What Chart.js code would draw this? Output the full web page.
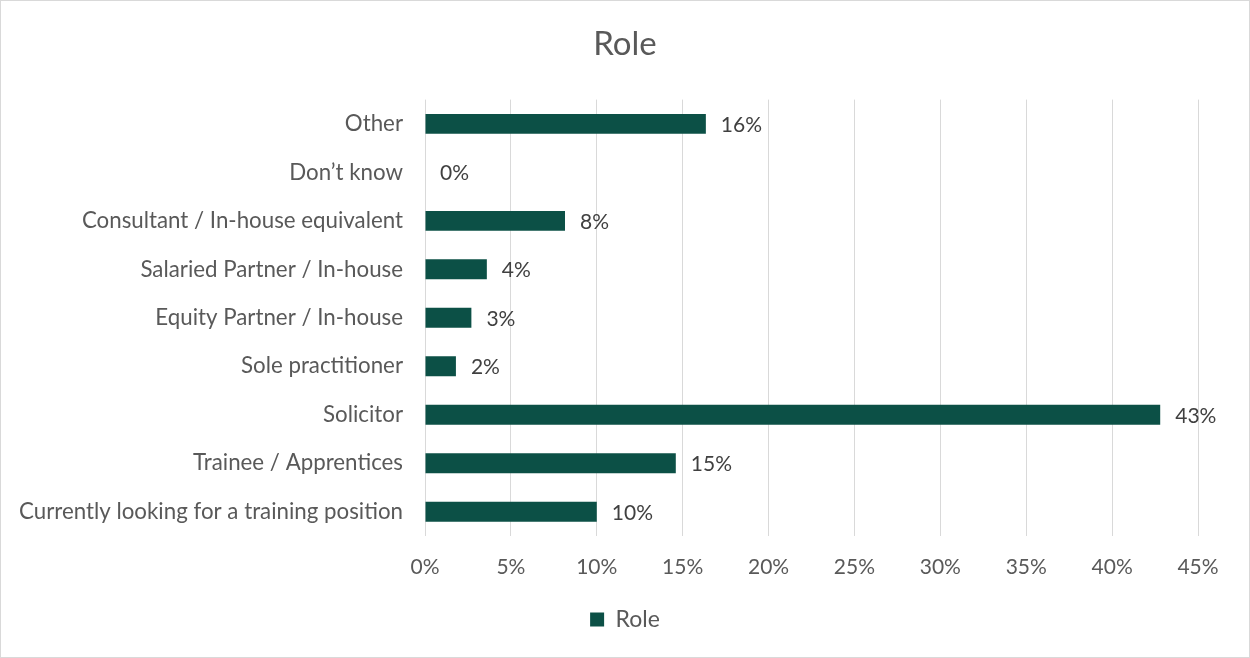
<!DOCTYPE html>
<html>
<head>
<meta charset="utf-8">
<script src="https://cdn.jsdelivr.net/npm/chart.js@4.4.1/dist/chart.umd.min.js"></script>
<style>
  body { margin: 0; background: #fff; }
  #caixa { width: 1250px; height: 658px; box-sizing: border-box; border: 1px solid #d9d9d9; }
  #grafico { display: block; }
</style>
</head>
<body>
<div id="caixa"><canvas id="grafico" width="1248" height="656"></canvas></div>
<script>
// dados
var categorias = [
  "Other",
  "Don\u2019t know",
  "Consultant / In-house equivalent",
  "Salaried Partner / In-house",
  "Equity Partner / In-house",
  "Sole practitioner",
  "Solicitor",
  "Trainee / Apprentices",
  "Currently looking for a training position",
];
var valores = [16.35, 0, 8.15, 3.6, 2.7, 1.8, 42.8, 14.6, 10.0];
var rotulos = ["16%", "0%", "8%", "4%", "3%", "2%", "43%", "15%", "10%"];

var fonte = "Lato, 'Liberation Sans', sans-serif";
var corTexto = "#595959";

// plugin simples pra escrever o valor no fim da barra
const rotulosBarras = {
  id: "rotulosBarras",
  afterDatasetsDraw(chart) {
    const ctx = chart.ctx;
    const meta = chart.getDatasetMeta(0);
    ctx.save();
    ctx.font = "21px " + fonte;
    ctx.fillStyle = "#404040";
    ctx.textAlign = "left";
    ctx.textBaseline = "middle";
    meta.data.forEach(function (barra, i) {
      ctx.fillText(rotulos[i], barra.x + 15, barra.y + 1);
    });
    ctx.restore();
  },
};

new Chart(document.getElementById("grafico"), {
  type: "bar",
  data: {
    labels: categorias,
    datasets: [
      {
        label: "Role",
        data: valores,
        backgroundColor: "#0c5046",
        borderWidth: 0,
        barPercentage: 0.41,
        categoryPercentage: 1,
      },
    ],
  },
  options: {
    indexAxis: "y",
    responsive: false,
    animation: false,
    layout: { padding: { left: 0, right: 0, top: 0, bottom: 16 } },
    plugins: {
      title: {
        display: true,
        text: "Role",
        color: corTexto,
        font: { family: fonte, size: 33, weight: "normal" },
        padding: { top: 24, bottom: 35 },
      },
      legend: {
        position: "bottom",
        labels: {
          color: corTexto,
          font: { family: fonte, size: 23 },
          boxWidth: 14,
          boxHeight: 14,
          padding: 10,
        },
      },
      tooltip: { enabled: false },
    },
    scales: {
      x: {
        min: 0,
        max: 45,
        ticks: {
          stepSize: 5,
          color: corTexto,
          font: { family: fonte, size: 21 },
          padding: 19,
          callback: function (v) {
            return v + "%";
          },
        },
        grid: { color: "#d9d9d9", lineWidth: 1, drawTicks: false },
        border: { display: false },
        afterFit: function (escala) {
          escala.height = 62;
        },
      },
      y: {
        ticks: {
          color: corTexto,
          font: { family: fonte, size: 22.3 },
          padding: 22,
        },
        grid: { display: false, drawTicks: false },
        border: { display: false },
        afterFit: function (escala) {
          escala.width = 424;
        },
      },
      // eixo vazio na direita so pra reservar a margem
      margemDireita: {
        type: "linear",
        position: "right",
        ticks: { display: false },
        grid: { display: false, drawTicks: false },
        border: { display: false },
        afterFit: function (escala) {
          escala.width = 51;
        },
      },
    },
  },
  plugins: [rotulosBarras],
});
</script>
</body>
</html>
